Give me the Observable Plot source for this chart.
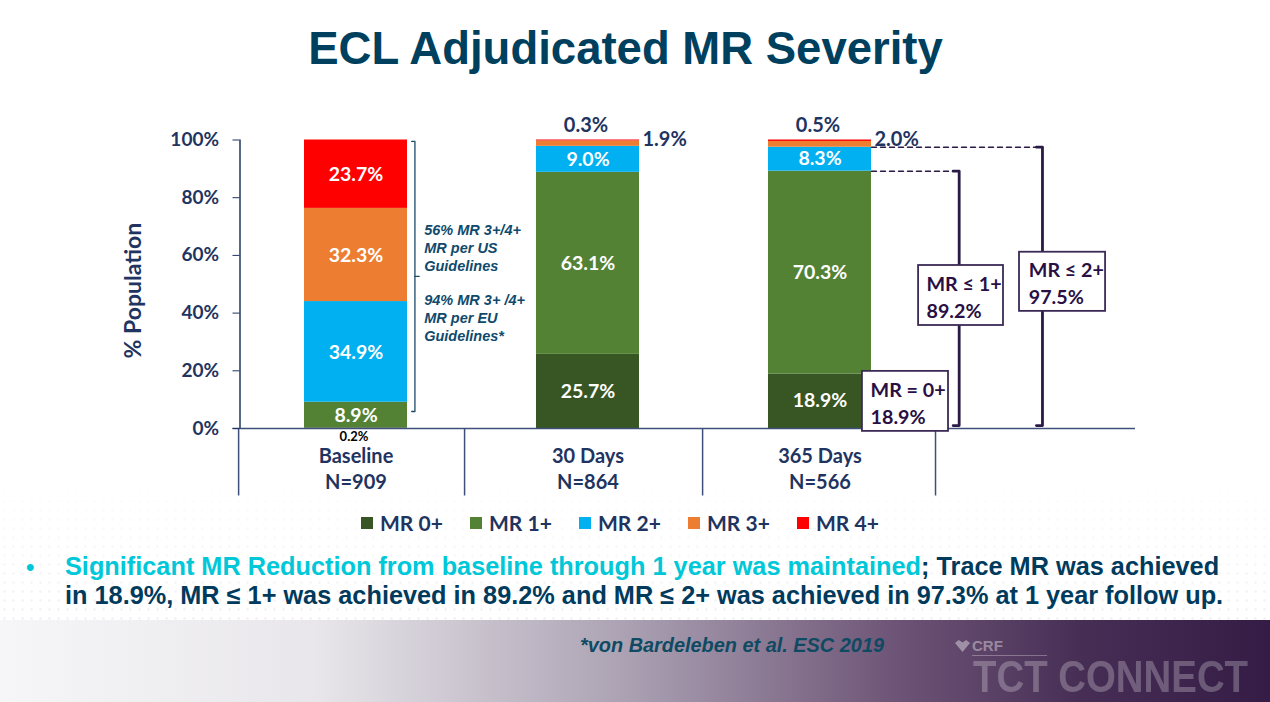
<!DOCTYPE html>
<html>
<head>
<meta charset="utf-8">
<script src="https://cdn.jsdelivr.net/npm/d3@7"></script>
<script src="https://cdn.jsdelivr.net/npm/@observablehq/plot@0.6"></script>
<style>
   html, body { margin: 0; padding: 0; width: 1270px; height: 702px; overflow: hidden; background: #fff; }
   #slide { position: relative; width: 1270px; height: 702px; overflow: hidden; }
   #slide > * { position: absolute; }
   #dots {
      left: 0; top: 470px; width: 1270px; height: 150px;
      background-image: radial-gradient(#e4e4ec 1px, transparent 1.6px);
      background-size: 9px 9px;
      -webkit-mask-image: linear-gradient(to bottom, transparent 0%, #000 100%);
      opacity: .45;
   }
   #footer {
      left: 0; top: 620px; width: 1270px; height: 82px;
      background: linear-gradient(90deg, #f6f6f8 0%, #e8e6ea 25%, #a99fb1 50%, #6f5678 70%, #472e55 85%, #341c46 100%);
   }
   #title {
      left: 0; top: 23px; width: 1251px; margin: 0; text-align: center;
      font: bold 45.5px "Liberation Sans", sans-serif; color: #00405f;
   }
   #chart { left: 0; top: 100px; }
   #legend {
      left: 361px; top: 510px; display: flex;
      font: bold 21px Lato, sans-serif; color: #1f3461;
   }
   #legend div { display: flex; align-items: center; width: 109px; }
   #legend span { width: 12px; height: 12px; margin-right: 7px; }
   #bullet {
      left: 65px; top: 552px; width: 1190px;
      font: bold 25.3px/29px "Liberation Sans", sans-serif; color: #003a5c; white-space: nowrap;
   }
   #bullet b { color: #00c8d8; }
   #dot { left: 26px; top: 552px; font: bold 24px/29px "Liberation Sans", sans-serif; color: #00c8d8; }
   #footnote { left: 580px; top: 634px; font: italic bold 19.9px "Liberation Sans", sans-serif; color: #0f4a63; }
   #heart {
      left: 955px; top: 640px; width: 15px; height: 12px; background: rgba(255,255,255,.4);
      clip-path: polygon(0 25%, 25% 0, 50% 20%, 75% 0, 100% 25%, 50% 100%);
   }
   #crf { left: 972px; top: 637px; font: bold 15px "Liberation Sans", sans-serif; color: rgba(255,255,255,.4); }
   #crf_line { left: 972px; top: 655px; width: 75px; height: 1px; background: rgba(255,255,255,.3); }
   #tct {
      left: 973px; top: 657px; font: bold 45px/40px "Liberation Sans", sans-serif; color: rgba(255,255,255,.25);
      white-space: nowrap; transform: scaleX(.853); transform-origin: left center;
   }
</style>
</head>
<body>
<div id="slide">
   <div id="dots"></div>
   <div id="footer"></div>
   <h1 id="title">ECL Adjudicated MR Severity</h1>
   <div id="chart"></div>
   <div id="legend"></div>
   <div id="dot">•</div>
   <div id="bullet"><b>Significant MR Reduction from baseline through 1 year was maintained</b>; Trace MR was achieved<br>in 18.9%, MR ≤ 1+ was achieved in 89.2% and MR ≤ 2+ was achieved in 97.3% at 1 year follow up.</div>
   <div id="footnote">*von Bardeleben et al. ESC 2019</div>
   <div id="heart"></div>
   <div id="crf">CRF</div>
   <div id="crf_line"></div>
   <div id="tct">TCT CONNECT</div>
</div>
<script>
"use strict";

const visits = ["Baseline", "30 Days", "365 Days"]
const patients = ["N=909", "N=864", "N=566"]
const grades = ["MR 0+", "MR 1+", "MR 2+", "MR 3+", "MR 4+"]
const grade_colors = ["#375623", "#548235", "#00B0F0", "#ED7D31", "#FF0000"]

const mr0 = [0.2, 25.7, 18.9]
const mr1 = [8.9, 63.1, 70.3]
const mr2 = [34.9, 9.0, 8.3]
const mr3 = [32.3, 1.9, 2.0]
const mr4 = [23.7, 0.3, 0.5]
const by_grade = [mr0, mr1, mr2, mr3, mr4]

const y_ticks = [0, 20, 40, 60, 80, 100]

// x is in visit units: 0 = Baseline, 1 = 30 Days, 2 = 365 Days
const half_bar = 0.222
const separators = [-0.506, 0.468, 1.494, 2.498]
const navy = "#1f3461"
const bracket_ink = "#2a1a45"

const rows = []
by_grade.forEach((values, g) => {
   values.forEach((value, i) => {
      rows.push({"i": i, "grade": grades[g], "value": value, "x1": i - half_bar, "x2": i + half_bar})
   })
})

const pct = d => `${d.value.toFixed(1)}%`
const on_top = rows.filter(d => d.grade == "MR 4+" && d.value < 5)
const beside = rows.filter(d => d.grade == "MR 3+" && d.value < 5)
const below = rows.filter(d => d.grade == "MR 0+" && d.value < 5)

// brackets next to the bars
const us_eu_bracket = [[0.24, 99.5], [0.254, 99.5], [0.254, 5.9], [0.24, 5.9]]
const us_eu_tick = [[0.254, 52.7], [0.272, 52.7]]
const le1_bracket = [[2.574, 89.2], [2.6, 89.2], [2.6, 1], [2.574, 1]]
const le2_bracket = [[2.933, 97.5], [2.959, 97.5], [2.959, 1], [2.933, 1]]
const le1_dash = [[2.222, 89.2], [2.574, 89.2]]
const le2_dash = [[2.222, 97.5], [2.933, 97.5]]

const boxes = [
   {"x1": 2.183, "x2": 2.554, "y1": -1.0, "y2": 19.8, "tx": 2.218, "label": "MR = 0+\n18.9%"},
   {"x1": 2.425, "x2": 2.791, "y1": 35.7, "y2": 56.5, "tx": 2.459, "label": "MR ≤ 1+\n89.2%"},
   {"x1": 2.860, "x2": 3.231, "y1": 40.6, "y2": 61.1, "tx": 2.9, "label": "MR ≤ 2+\n97.5%"}
]

const guideline_notes = [
   {"y": 62.7, "label": "56% MR 3+/4+\nMR per US\nGuidelines"},
   {"y": 38.4, "label": "94% MR 3+ /4+\nMR per EU\nGuidelines*"}
]

const plot = Plot.plot({
   "width": 1270,
   "height": 410,
   "marginLeft": 239.5,
   "marginRight": 135,
   "marginTop": 39.5,
   "marginBottom": 82,
   "style": {"fontFamily": "Lato, sans-serif", "fontWeight": 700, "background": "transparent", "overflow": "visible"},
   "x": {"domain": [-0.5, 3.36]},
   "y": {"domain": [0, 100]},
   "color": {"domain": grades, "range": grade_colors},
   "marks": [
      Plot.rectY(rows, {"x1": "x1", "x2": "x2", "y": "value", "fill": "grade", "order": grades}),
      Plot.ruleX([-0.5], {"y1": 0, "y2": 100, "stroke": navy, "strokeWidth": 1.5}),
      Plot.ruleX(separators, {"y1": 0, "y2": -23.4, "stroke": "#3f4f7c", "strokeWidth": 1.5}),
      Plot.ruleY([0], {"x1": -0.53, "x2": 3.36, "stroke": "#3f4f7c", "strokeWidth": 1.5}),
      Plot.axisY({
         "ticks": y_ticks,
         "tickFormat": d => `${d}%`,
         "tickSize": 7,
         "tickPadding": 14,
         "fontSize": 19,
         "color": navy,
         "label": null
      }),
      Plot.text(["% Population"], {
         "x": -0.957, "y": 47.8, "text": d => d, "rotate": -90,
         "fontSize": 23, "fill": navy
      }),
      Plot.axisX({
         "ticks": [0, 1, 2],
         "tickFormat": i => `${visits[i]}\n${patients[i]}`,
         "tickSize": 0,
         "tickPadding": 16,
         "fontSize": 20,
         "lineHeight": 1.3,
         "color": navy,
         "label": null
      }),

      // values
      Plot.text(rows, Plot.stackY({
         "filter": d => d.value >= 5,
         "x": "i", "y": "value", "z": "grade", "order": grades,
         "text": pct, "fill": "white", "fontSize": 19.5
      })),
      Plot.text(on_top, {"x": "i", "y": 100, "text": pct, "dy": -14, "dx": -2, "fill": navy, "fontSize": 20}),
      Plot.text(beside, {"x": d => d.i + half_bar, "y": 100, "text": pct, "dx": 3, "textAnchor": "start", "fill": navy, "fontSize": 20}),
      Plot.text(below, {"x": "i", "y": 0, "text": pct, "dy": 8, "dx": -2, "fill": "#000", "fontSize": 13}),

      // baseline bracket and guideline notes
      Plot.line(us_eu_bracket, {"stroke": "#1c4a66", "strokeWidth": 1.3}),
      Plot.line(us_eu_tick, {"stroke": "#1c4a66", "strokeWidth": 1.3}),
      Plot.text(guideline_notes, {
         "x": 0.294, "y": "y", "text": "label", "textAnchor": "start", "lineHeight": 1.24,
         "fontFamily": "Liberation Sans, sans-serif", "fontStyle": "italic", "fontWeight": 700, "fontSize": 14.5, "fill": "#0f4a6c"
      }),

      // 365 day brackets
      Plot.line(le1_dash, {"stroke": bracket_ink, "strokeWidth": 1.5, "strokeDasharray": "5,4"}),
      Plot.line(le2_dash, {"stroke": bracket_ink, "strokeWidth": 1.5, "strokeDasharray": "5,4"}),
      Plot.line(le1_bracket, {"stroke": bracket_ink, "strokeWidth": 2.8}),
      Plot.line(le2_bracket, {"stroke": bracket_ink, "strokeWidth": 2.8}),
      Plot.rect(boxes, {"x1": "x1", "x2": "x2", "y1": "y1", "y2": "y2", "fill": "white", "stroke": "#3a2a55", "strokeWidth": 1.8}),
      Plot.text(boxes, {
         "x": "tx", "y": d => (d.y1 + d.y2) / 2, "text": "label", "textAnchor": "start",
         "lineHeight": 1.37, "fontSize": 19.7, "fill": "#2a0f45"
      })
   ]
})

document.querySelector("#chart").append(plot)

// legend
const legend_el = document.querySelector("#legend")
grades.forEach((g, n) => {
   const item = document.createElement("div")
   const swatch = document.createElement("span")
   swatch.style.background = grade_colors[n]
   item.append(swatch, g)
   legend_el.append(item)
})
</script>
</body>
</html>
